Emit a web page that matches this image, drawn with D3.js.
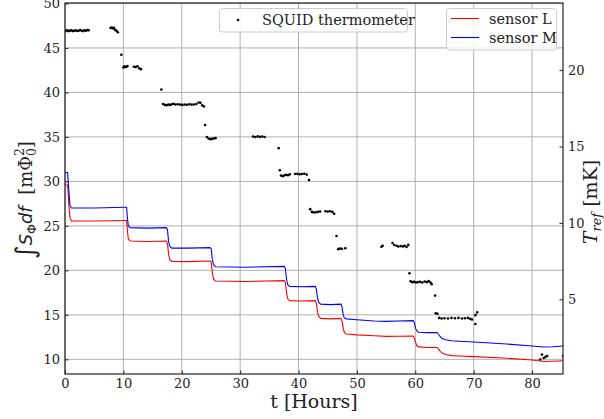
<!DOCTYPE html>
<html>
<head>
<meta charset="utf-8">
<script src="https://cdn.jsdelivr.net/npm/d3@7"></script>
<style>
body { margin: 0; background: #fff; }
text { font-family: "DejaVu Serif", serif; }
</style>
</head>
<body>
<script>
// time axis for the two sensor curves [hours]
var sensorTime = [0, 0.45, 0.65, 0.85, 1.1, 5, 10.3, 10.55, 10.7, 10.85, 11.2, 14,
  17.35, 17.55, 17.75, 17.95, 18.3, 21, 24.85, 25.05, 25.25, 25.45, 25.8, 31,
  37.55, 37.75, 37.95, 38.15, 38.5, 40.5, 42.85, 43.05, 43.25, 43.45, 43.8, 45.5,
  47.25, 47.45, 47.65, 47.85, 48.2, 50, 53, 55, 57, 59.65, 59.85, 60.05, 60.25,
  60.6, 62, 63.75, 63.95, 64.2, 64.6, 65.2, 66.2, 67.5, 70, 75, 80, 82, 83.5, 85.3];

// integrated flux noise, sensor L [m Phi0^2]
var sensorL = [29.6, 29.6, 27.5, 25.9, 25.55, 25.55, 25.6, 25.6, 24.4, 23.5, 23.3, 23.25,
  23.3, 23.0, 21.8, 21.2, 21.0, 20.98, 21.05, 20.9, 19.7, 19.0, 18.8, 18.75,
  18.85, 18.6, 17.4, 16.8, 16.6, 16.55, 16.6, 16.3, 15.3, 14.85, 14.6, 14.55,
  14.6, 14.3, 13.5, 13.0, 12.85, 12.75, 12.65, 12.58, 12.6, 12.62, 12.4, 11.9, 11.55,
  11.4, 11.33, 11.33, 11.2, 10.95, 10.7, 10.55, 10.42, 10.37, 10.3, 10.15, 9.92, 9.75, 9.78, 9.84];

// integrated flux noise, sensor M [m Phi0^2]
var sensorM = [31.0, 31.0, 29.0, 27.3, 27.0, 27.0, 27.1, 27.1, 25.8, 25.0, 24.8, 24.75,
  24.8, 24.6, 23.2, 22.7, 22.5, 22.5, 22.55, 22.4, 21.2, 20.6, 20.4, 20.35,
  20.45, 20.2, 19.0, 18.4, 18.2, 18.15, 18.2, 17.9, 16.9, 16.4, 16.2, 16.15,
  16.2, 15.9, 15.0, 14.65, 14.55, 14.45, 14.3, 14.27, 14.3, 14.35, 14.1, 13.5, 13.2,
  13.05, 13.0, 13.0, 12.85, 12.6, 12.35, 12.2, 12.08, 12.03, 11.95, 11.75, 11.5, 11.38, 11.42, 11.5];

// SQUID thermometer readings [hours, mK]
var squid = [
  [0.1,22.55],[0.35,22.6],[0.6,22.55],[0.85,22.58],[1.1,22.6],[1.35,22.55],[1.6,22.57],
  [1.85,22.6],[2.1,22.56],[2.35,22.58],[2.6,22.62],[2.85,22.57],[3.1,22.55],[3.35,22.6],
  [3.6,22.58],[3.85,22.62],[4.05,22.6],
  [7.8,22.75],[8.0,22.79],[8.2,22.72],[8.4,22.76],[8.6,22.62],[8.8,22.58],[9.05,22.48],
  [9.65,21.0],
  [10.0,20.17],[10.2,20.24],[10.45,20.2],[10.7,20.26],[11.8,20.22],[12.1,20.2],[12.4,20.25],
  [12.7,20.12],[13.0,20.06],
  [16.5,18.73],
  [16.8,17.78],[17.1,17.72],[17.4,17.7],[17.7,17.74],[18.0,17.72],[18.3,17.76],[18.6,17.8],
  [18.9,17.75],[19.3,17.76],[19.7,17.74],[20.1,17.72],[20.5,17.74],[20.9,17.73],[21.3,17.76],
  [21.7,17.74],[22.1,17.75],[22.5,17.78],[22.9,17.88],[23.2,17.86],[23.5,17.7],[23.8,17.62],
  [24.0,16.41],
  [24.3,15.62],[24.6,15.52],[24.9,15.48],[25.2,15.5],[25.5,15.52],[25.8,15.55],
  [32.2,15.65],[32.6,15.62],[33.0,15.66],[33.4,15.63],[33.8,15.65],[34.2,15.62],
  [36.6,14.89],
  [36.8,13.44],[37.0,13.1],[37.3,13.05],[37.6,13.12],[37.9,13.15],[38.2,13.12],[38.5,13.18],
  [39.4,13.2],[39.8,13.22],[40.2,13.18],[40.6,13.2],[41.0,13.22],[41.4,13.16],[41.8,12.8],
  [42.0,10.9],[42.3,10.72],[42.6,10.68],[42.9,10.7],[43.3,10.72],[43.7,10.74],[44.6,10.76],
  [45.0,10.74],[45.4,10.76],[45.8,10.72],[46.1,10.6],
  [46.5,9.14],
  [46.8,8.28],[47.1,8.32],[47.4,8.3],[48.0,8.34],
  [54.2,8.44],[54.4,8.5],[56.1,8.68],[56.4,8.55],[56.8,8.5],[57.1,8.45],[57.5,8.48],
  [57.9,8.46],[58.2,8.5],[58.5,8.42],[58.8,8.56],
  [59.0,6.7],
  [59.2,6.18],[59.5,6.12],[59.8,6.14],[60.1,6.1],[60.4,6.12],[60.8,6.14],[61.2,6.1],
  [61.6,6.16],[62.0,6.12],[62.3,6.2],[62.6,6.1],[62.8,5.98],
  [63.4,5.24],
  [63.5,4.08],[63.8,4.05],[64.1,3.78],[64.5,3.74],[65.0,3.76],[65.6,3.74],[66.2,3.78],
  [66.8,3.76],[67.4,3.78],[68.0,3.74],[68.5,3.76],[69.0,3.78],[69.4,3.72],[69.7,3.68],
  [70.3,3.38],[70.3,3.96],[70.6,4.14],
  [81.4,1.06],[81.7,1.38],[82.0,1.16],[82.3,1.23],[82.6,1.29],[85.3,1.29]
];

var xTicks = [0, 10, 20, 30, 40, 50, 60, 70, 80];
var leftTicks = [10, 15, 20, 25, 30, 35, 40, 45, 50];
var rightTicks = [5, 10, 15, 20];

// define svg
var width = 604, height = 419;
var svg = d3.select("body").append("svg")
  .attr("width", width)
  .attr("height", height);

var plot = {left: 65, right: 563, top: 3, bottom: 374};

// define scales
var x = d3.scaleLinear().domain([0, 85.3]).range([plot.left, plot.right]);
var yL = d3.scaleLinear().domain([8.35, 50.05]).range([plot.bottom, plot.top]);
var yR = d3.scaleLinear().domain([0.11, 24.39]).range([plot.bottom, plot.top]);

svg.append("clipPath").attr("id", "clip")
  .append("rect")
  .attr("x", plot.left).attr("y", plot.top)
  .attr("width", plot.right - plot.left).attr("height", plot.bottom - plot.top);

// grid
var grid = svg.append("g").attr("stroke", "#b0b0b0").attr("stroke-width", 1);
grid.selectAll(".gx").data(xTicks).enter().append("line")
  .attr("x1", function(d) { return x(d); }).attr("x2", function(d) { return x(d); })
  .attr("y1", plot.top).attr("y2", plot.bottom);
grid.selectAll(".gy").data(leftTicks).enter().append("line")
  .attr("y1", function(d) { return yL(d); }).attr("y2", function(d) { return yL(d); })
  .attr("x1", plot.left).attr("x2", plot.right);

// sensor curves
var lineL = d3.line()
  .x(function(d, i) { return x(sensorTime[i]); })
  .y(function(d) { return yL(d); });

var curves = svg.append("g").attr("clip-path", "url(#clip)");
curves.append("path").datum(sensorL)
  .attr("d", lineL).attr("fill", "none").attr("stroke", "#ff0000").attr("stroke-width", 1.1);
curves.append("path").datum(sensorM)
  .attr("d", lineL).attr("fill", "none").attr("stroke", "#0000ff").attr("stroke-width", 1.1);

// SQUID points
svg.append("g").attr("clip-path", "url(#clip)")
  .selectAll("circle").data(squid).enter().append("circle")
  .attr("cx", function(d) { return x(d[0]); })
  .attr("cy", function(d) { return yR(d[1]); })
  .attr("r", 1.3)
  .attr("fill", "#000");

// axes
var axB = svg.append("g").attr("transform", "translate(0," + plot.bottom + ")")
  .call(d3.axisBottom(x).tickValues(xTicks).tickSize(-3.5).tickPadding(5));
var axL = svg.append("g").attr("transform", "translate(" + plot.left + ",0)")
  .call(d3.axisLeft(yL).tickValues(leftTicks).tickSize(-3.5).tickPadding(5));
var axR = svg.append("g").attr("transform", "translate(" + plot.right + ",0)")
  .call(d3.axisRight(yR).tickValues(rightTicks).tickSize(-3.5).tickPadding(5));

[axB, axL, axR].forEach(function(a) {
  a.select(".domain").remove();
  a.selectAll("text").attr("font-family", "DejaVu Serif").attr("font-size", 13).attr("fill", "#222");
  a.selectAll("line").attr("stroke", "#222");
});

// frame
svg.append("rect")
  .attr("x", plot.left).attr("y", plot.top)
  .attr("width", plot.right - plot.left).attr("height", plot.bottom - plot.top)
  .attr("fill", "none").attr("stroke", "#222").attr("stroke-width", 1.2);

// axis labels
svg.append("text")
  .attr("x", x(42.65)).attr("y", 408)
  .attr("text-anchor", "middle").attr("font-size", 19).attr("fill", "#222")
  .text("t [Hours]");

var ylab = svg.append("text")
  .attr("transform", "translate(32,200) rotate(-90)")
  .attr("text-anchor", "middle").attr("font-size", 18).attr("fill", "#222")
  .style("white-space", "pre");
ylab.append("tspan").attr("font-family", "DejaVu Sans").attr("font-size", 26).attr("dy", 2).text("\u222B");
ylab.append("tspan").attr("font-family", "DejaVu Sans").attr("font-style", "italic").attr("dy", -2).text("S");
ylab.append("tspan").attr("font-family", "DejaVu Sans").attr("font-size", 12.5).attr("dy", 4).text("\u03A6");
ylab.append("tspan").attr("font-family", "DejaVu Sans").attr("font-style", "italic").attr("dy", -4).text("df");
ylab.append("tspan").text("\u00a0\u00a0[m\u03A6");
ylab.append("tspan").attr("font-size", 12.5).attr("dy", 4).text("0");
ylab.append("tspan").attr("font-size", 12.5).attr("dx", -8).attr("dy", -12).text("2");
ylab.append("tspan").attr("dy", 8).text("]");

var rlab = svg.append("text")
  .attr("transform", "translate(597,202) rotate(-90)")
  .attr("text-anchor", "middle").attr("font-size", 19).attr("fill", "#222");
rlab.append("tspan").attr("font-style", "italic").text("T");
rlab.append("tspan").attr("font-style", "italic").attr("font-size", 13).attr("dy", 4).text("ref");
rlab.append("tspan").attr("dy", -4).text("\u00a0[mK]");

// legend: SQUID thermometer
var leg1 = svg.append("g");
leg1.append("rect")
  .attr("x", 219.5).attr("y", 8.5).attr("width", 188).attr("height", 23.5)
  .attr("rx", 3).attr("fill", "#fff").attr("fill-opacity", 0.8)
  .attr("stroke", "#cccccc");
leg1.append("circle").attr("cx", 238).attr("cy", 20).attr("r", 1.3).attr("fill", "#000");
leg1.append("text").attr("x", 262).attr("y", 25).attr("font-size", 14.5).attr("fill", "#222")
  .text("SQUID thermometer");

// legend: sensors
var legItems = [{name: "sensor L", color: "#ff0000"}, {name: "sensor M", color: "#0000ff"}];
var leg2 = svg.append("g");
leg2.append("rect")
  .attr("x", 446.5).attr("y", 8.5).attr("width", 110).attr("height", 41.5)
  .attr("rx", 3).attr("fill", "#fff").attr("fill-opacity", 0.8)
  .attr("stroke", "#cccccc");
var li = leg2.selectAll("g").data(legItems).enter().append("g")
  .attr("transform", function(d, i) { return "translate(0," + (18.5 + i * 19) + ")"; });
li.append("line").attr("x1", 451).attr("x2", 479)
  .attr("stroke", function(d) { return d.color; }).attr("stroke-width", 1.1);
li.append("text").attr("x", 489).attr("y", 5).attr("font-size", 14.5).attr("fill", "#222")
  .text(function(d) { return d.name; });
</script>
</body>
</html>
